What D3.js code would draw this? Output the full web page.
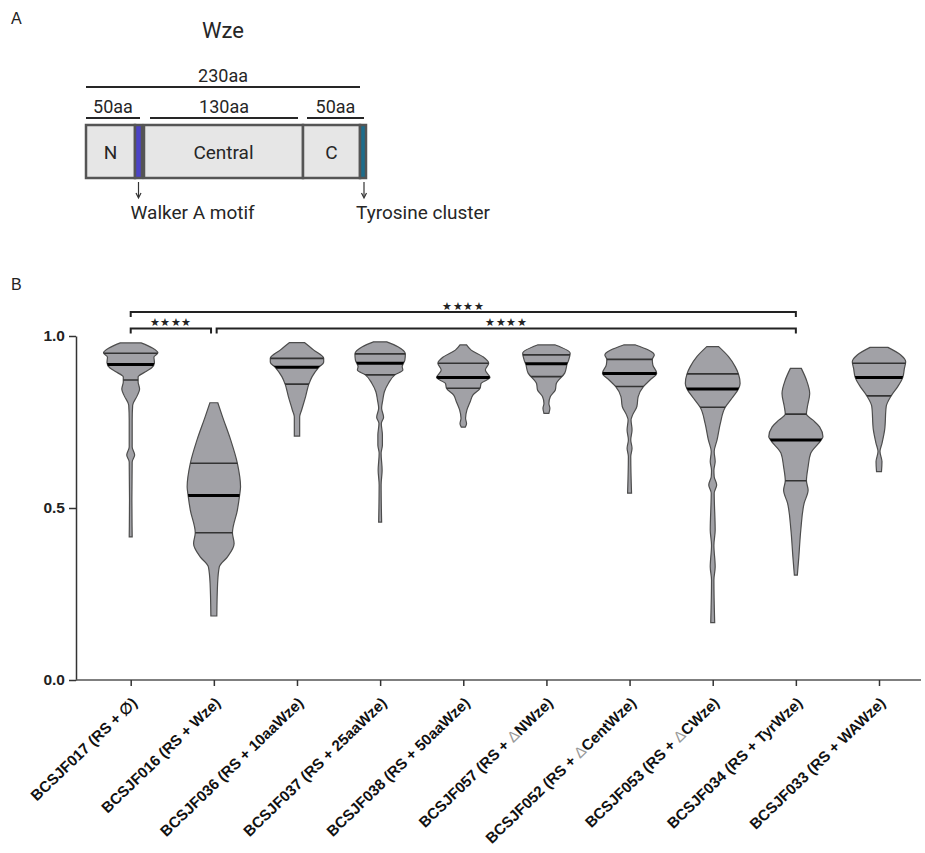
<!DOCTYPE html>
<html>
<head>
<meta charset="utf-8">
<script src="https://cdn.jsdelivr.net/npm/d3@7"></script>
<style>
  body { margin: 0; background: #fff; }
  text { font-family: "Liberation Sans", Arial, sans-serif; }
  .schem text { font-family: Roboto, "Liberation Sans", sans-serif; fill: #262626; }
</style>
</head>
<body>
<svg width="925" height="853"></svg>
<script>
// strains on the x axis (Δ is drawn in a lighter glyph, like the original)
const categories = [
  "BCSJF017 (RS + \u2205)", "BCSJF016 (RS + Wze)", "BCSJF036 (RS + 10aaWze)",
  "BCSJF037 (RS + 25aaWze)", "BCSJF038 (RS + 50aaWze)", "BCSJF057 (RS + \u0394NWze)",
  "BCSJF052 (RS + \u0394CentWze)", "BCSJF053 (RS + \u0394CWze)", "BCSJF034 (RS + TyrWze)",
  "BCSJF033 (RS + WAWze)"
];

// violin outlines: [value, density], top to bottom
const dens017 = [[0.980,10.5],[0.965,22],[0.951,27.5],[0.939,23.5],[0.922,24],[0.907,21],[0.895,14.5],[0.881,7.5],[0.866,7.5],[0.846,9],[0.826,6.5],[0.799,2],[0.756,1.5],[0.677,1.5],[0.654,4],[0.634,1.5],[0.523,1.2],[0.416,1.5]];
const dens016 = [[0.806,4],[0.765,8.8],[0.698,17],[0.630,23.8],[0.562,27],[0.536,26],[0.494,23.8],[0.428,18.8],[0.397,20.5],[0.358,13.8],[0.329,5.5],[0.281,3.8],[0.186,3]];
const dens036 = [[0.981,7.5],[0.959,17],[0.935,27],[0.924,27],[0.909,22],[0.882,15.3],[0.860,12],[0.824,8.7],[0.785,4.7],[0.765,2.7],[0.709,2.7]];
const dens037 = [[0.983,6.7],[0.969,18],[0.948,25.5],[0.930,25],[0.911,22.3],[0.901,23],[0.887,15],[0.862,8.3],[0.838,4.3],[0.814,2.7],[0.790,1.5],[0.764,3.5],[0.746,1.2],[0.712,2.3],[0.683,2.3],[0.659,1],[0.610,2],[0.567,1],[0.459,1.5]];
const dens038 = [[0.974,3.3],[0.959,8],[0.940,19.7],[0.921,25.7],[0.901,22.3],[0.879,27],[0.862,18],[0.848,17],[0.828,9.7],[0.809,7],[0.785,3.7],[0.761,2.3],[0.745,3.3],[0.735,2]];
const dens057 = [[0.974,9],[0.950,24],[0.930,22.5],[0.919,21],[0.892,18.5],[0.862,10],[0.843,9],[0.824,4],[0.804,2.5],[0.790,3.5],[0.775,2.5]];
const dens052 = [[0.974,6],[0.945,25],[0.932,23],[0.916,23.5],[0.892,27.4],[0.872,20.7],[0.853,14],[0.824,8.7],[0.795,7.4],[0.770,3],[0.756,1.5],[0.727,2.5],[0.698,1.2],[0.674,2.5],[0.649,1.2],[0.543,2]];
const dens053 = [[0.969,6],[0.940,16],[0.911,22.7],[0.890,26],[0.862,27.7],[0.846,26],[0.819,19.4],[0.793,12.7],[0.746,7.7],[0.698,4.4],[0.664,1.5],[0.635,2.5],[0.610,1.2],[0.591,1.5],[0.567,4],[0.543,1.5],[0.436,2.5],[0.392,1.2],[0.329,2.5],[0.291,1.2],[0.167,2]];
const dens034 = [[0.906,5.5],[0.872,10.7],[0.833,14],[0.795,11.7],[0.773,10.7],[0.756,17],[0.736,24],[0.707,27.4],[0.698,25.7],[0.659,15],[0.620,12.4],[0.579,10.7],[0.552,12.4],[0.514,8.4],[0.436,5],[0.358,3],[0.305,1.5]];
const dens033 = [[0.967,9],[0.945,22],[0.925,27],[0.906,25.7],[0.879,24],[0.853,19],[0.826,12.3],[0.795,7.3],[0.727,5.7],[0.688,3],[0.664,1],[0.635,3],[0.606,2.5]];
const densities = [dens017, dens016, dens036, dens037, dens038, dens057, dens052, dens053, dens034, dens033];

// quartiles per strain
const q1s     = [0.872, 0.428, 0.860, 0.887, 0.848, 0.882, 0.853, 0.793, 0.579, 0.826];
const medians = [0.917, 0.536, 0.909, 0.921, 0.879, 0.919, 0.891, 0.846, 0.698, 0.879];
const q3s     = [0.950, 0.630, 0.935, 0.948, 0.921, 0.945, 0.932, 0.890, 0.773, 0.921];

const yTicks = [0, 0.5, 1.0];

// significance brackets (category indices)
const comparisons = [
  {from: 0, to: 8, level: 0, label: "\u2605\u2605\u2605\u2605"},
  {from: 0, to: 1, level: 1, label: "\u2605\u2605\u2605\u2605"},
  {from: 1, to: 8, level: 1, label: "\u2605\u2605\u2605\u2605"}
];

const svg = d3.select("svg");

// ---------- panel labels ----------
svg.append("text").attr("x", 11).attr("y", 24).attr("font-size", 16).attr("fill", "#222").text("A");
svg.append("text").attr("x", 11).attr("y", 290).attr("font-size", 16).attr("fill", "#222").text("B");

// ---------- panel A: Wze domain schematic ----------
const schem = svg.append("g").attr("class", "schem");
schem.append("text").attr("x", 223).attr("y", 38).attr("font-size", 22)
  .attr("text-anchor", "middle").text("Wze");

const spans = [
  {label: "230aa", x0: 86, x1: 360, y: 87},
  {label: "50aa", x0: 86, x1: 140, y: 118},
  {label: "130aa", x0: 150, x1: 298, y: 118},
  {label: "50aa", x0: 307, x1: 364, y: 118}
];
spans.forEach(s => {
  schem.append("line").attr("x1", s.x0).attr("x2", s.x1).attr("y1", s.y).attr("y2", s.y)
    .attr("stroke", "#262626").attr("stroke-width", 2);
  schem.append("text").attr("x", (s.x0 + s.x1) / 2).attr("y", s.y - 5)
    .attr("font-size", 18).attr("text-anchor", "middle").text(s.label);
});

const boxes = [
  {label: "N", x0: 86, x1: 135, fill: "#e6e6e6"},
  {label: "", x0: 135, x1: 142, fill: "#4b43c6"},
  {label: "Central", x0: 144, x1: 303, fill: "#e6e6e6"},
  {label: "C", x0: 303, x1: 360, fill: "#e6e6e6"},
  {label: "", x0: 360, x1: 366, fill: "#1d6d8c"}
];
boxes.forEach(b => {
  schem.append("rect").attr("x", b.x0).attr("y", 125).attr("width", b.x1 - b.x0).attr("height", 53)
    .attr("fill", b.fill).attr("stroke", "#555").attr("stroke-width", 2.5);
  if (b.label) schem.append("text").attr("x", (b.x0 + b.x1) / 2).attr("y", 159)
    .attr("font-size", 19).attr("text-anchor", "middle").text(b.label);
});

[{x: 138.5, label: "Walker A motif"}, {x: 364, label: "Tyrosine cluster"}].forEach(a => {
  schem.append("line").attr("x1", a.x).attr("x2", a.x).attr("y1", 182).attr("y2", 197)
    .attr("stroke", "#333").attr("stroke-width", 1.2);
  schem.append("path").attr("d", `M${a.x - 2.5},193L${a.x},198L${a.x + 2.5},193`)
    .attr("fill", "none").attr("stroke", "#333").attr("stroke-width", 1.2);
  schem.append("text").attr("x", a.x - 8).attr("y", 219).attr("font-size", 19).text(a.label);
});

// ---------- panel B: violins ----------
const x = d3.scalePoint().domain(categories).range([130.7, 879]);
const y = d3.scaleLinear().domain([0, 1]).range([680, 336]);
const w = d3.scaleLinear().domain([0, 28]).range([0, x.step() * 0.333]);

// y axis
const yAxis = d3.axisLeft(y).tickValues(yTicks).tickFormat(d3.format(".1f"))
  .tickSizeInner(7).tickSizeOuter(0).tickPadding(4);
const yG = svg.append("g").attr("transform", "translate(76,0)").call(yAxis);
yG.select(".domain").attr("stroke", "#333").attr("stroke-width", 1.5);
yG.selectAll(".tick line").attr("stroke", "#333").attr("stroke-width", 1.5);
yG.selectAll(".tick text").attr("font-size", 15.5).attr("font-weight", "bold")
  .attr("fill", "#222").attr("font-family", "Liberation Sans, Arial, sans-serif");

// x axis
const xAxis = d3.axisBottom(x).tickSizeInner(6).tickSizeOuter(0);
const xG = svg.append("g").attr("transform", "translate(0,680)").call(xAxis);
xG.select(".domain").attr("d", "M76,0H921").attr("stroke", "#555").attr("stroke-width", 1.5);
xG.selectAll(".tick line").attr("stroke", "#333").attr("stroke-width", 1.5);
xG.selectAll(".tick text").each(function(d) {
  const t = d3.select(this).text(null)
    .attr("x", 0).attr("y", 0).attr("dy", 0)
    .attr("transform", "translate(7,24) rotate(-44)")
    .attr("text-anchor", "end").attr("font-size", 15.2).attr("font-weight", "bold")
    .attr("fill", "#111").attr("font-family", "Liberation Sans, Arial, sans-serif");
  d.split(/(\u0394)/).forEach(part => {
    if (!part) return;
    const ts = t.append("tspan").text(part);
    if (part === "\u0394") ts.attr("font-weight", "normal").attr("fill", "#999");
  });
});

const defs = svg.append("defs");
const area = d3.area()
  .curve(d3.curveMonotoneY)
  .y(d => y(d[0]));

categories.forEach((c, i) => {
  const cx = x(c);
  const shape = area.x0(d => cx - w(d[1])).x1(d => cx + w(d[1]))(densities[i]);
  defs.append("clipPath").attr("id", "clip" + i).append("path").attr("d", shape);

  svg.append("path").attr("d", shape)
    .attr("fill", "#a1a1a6").attr("stroke", "#4d4d4d").attr("stroke-width", 1.2);

  const lines = [
    {v: q3s[i], sw: 1.6, col: "#333"},
    {v: medians[i], sw: 3, col: "#000"},
    {v: q1s[i], sw: 1.6, col: "#333"}
  ];
  svg.append("g").attr("clip-path", `url(#clip${i})`)
    .selectAll("line").data(lines).join("line")
    .attr("x1", cx - 40).attr("x2", cx + 40)
    .attr("y1", d => y(d.v)).attr("y2", d => y(d.v))
    .attr("stroke", d => d.col).attr("stroke-width", d => d.sw);
});

// significance brackets
const levelY = lvl => y(1) - 24 + lvl * 16.5;
comparisons.forEach(cmp => {
  const shared = (idx) => comparisons.filter(o => o !== cmp && o.level === cmp.level &&
    (o.from === idx || o.to === idx)).length > 0;
  const xa = x(categories[cmp.from]) + (shared(cmp.from) ? 2.8 : 0);
  const xb = x(categories[cmp.to]) - (shared(cmp.to) ? 2.8 : 0);
  const by = levelY(cmp.level);
  svg.append("path").attr("d", `M${xa},${by + 5}V${by}H${xb}V${by + 5}`)
    .attr("fill", "none").attr("stroke", "#222").attr("stroke-width", 2);
  svg.append("text").attr("x", (xa + xb) / 2).attr("y", by - 2.5)
    .attr("text-anchor", "middle").attr("font-size", 11).attr("letter-spacing", 0.6)
    .attr("font-family", "DejaVu Sans, sans-serif").attr("fill", "#222")
    .text(cmp.label);
});
</script>
</body>
</html>
